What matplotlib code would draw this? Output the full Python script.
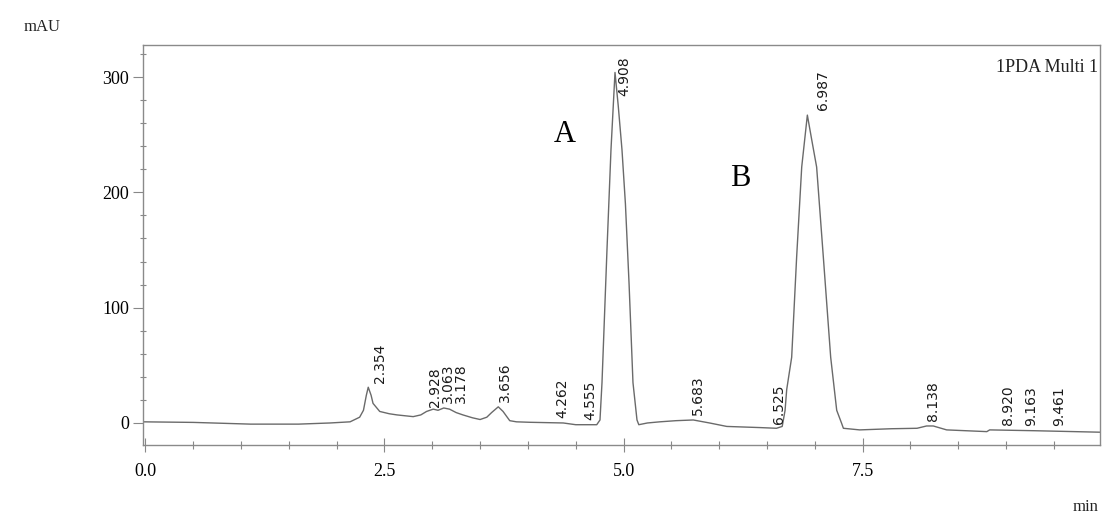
import matplotlib
matplotlib.use("Agg")
import matplotlib.pyplot as plt
from matplotlib.ticker import MultipleLocator
import numpy as np

# chromatogram trace (min, mAU)
time = [-0.03, 0.5, 1.1, 1.6, 1.93, 2.14, 2.24, 2.28, 2.31, 2.33, 2.36, 2.38,
        2.45, 2.55, 2.63, 2.80, 2.88, 2.94, 3.01, 3.06, 3.12, 3.18, 3.25, 3.32,
        3.42, 3.50, 3.57, 3.62, 3.69, 3.74, 3.81, 3.88, 4.02, 4.37, 4.50, 4.72,
        4.754, 4.775, 4.827, 4.869, 4.911, 4.945, 4.984, 5.02, 5.058, 5.099,
        5.141, 5.16, 5.25, 5.38, 5.55, 5.73, 5.90, 6.08, 6.43, 6.60, 6.66, 6.69,
        6.707, 6.759, 6.811, 6.864, 6.923, 6.97, 7.02, 7.09, 7.167, 7.23, 7.28,
        7.30, 7.47, 7.8, 8.07, 8.17, 8.24, 8.38, 8.80, 8.83, 9.29, 9.984]
signal = [1, 0.5, -1, -1, 0, 1, 5, 11, 24, 31, 24, 17,
          10, 8, 7, 5.5, 7, 10, 12, 11, 13, 12, 9, 7,
          4.5, 3, 5, 9, 14, 10, 2, 1, 0.6, 0, -1.5, -1.5,
          2.6, 35, 150, 237, 304, 275, 237, 190, 121, 35,
          2.6, -1.5, 0, 1, 2, 2.6, 0, -3, -4, -4.6, -3, 11,
          29, 57, 144, 222, 267, 245, 222, 144, 57, 11, 0,
          -4.6, -6, -5, -4.6, -2.6, -2.6, -6, -7.5, -6, -6.7, -8]

# retention times printed above the peaks
peak_rt = [2.354, 2.928, 3.063, 3.178, 3.656, 4.262, 4.555, 4.908, 5.683,
           6.525, 6.987, 8.138, 8.920, 9.163, 9.461]

# compound letters
compounds = ["A", "B"]
compound_t = [4.39, 6.22]
compound_y = [250, 212]

serif = "Liberation Serif"
line_col = "#6a6a6a"

fig = plt.figure(figsize=(11.09, 5.15), dpi=100)
ax = fig.add_axes([143 / 1109, 1 - 445 / 515, 957 / 1109, 400 / 515])

ax.plot(time, signal, color=line_col, lw=1.0)

ax.set_xlim(-0.026, 9.984)
ax.set_ylim(-19.1, 327.8)

ax.xaxis.set_major_locator(MultipleLocator(2.5))
ax.xaxis.set_minor_locator(MultipleLocator(0.5))
ax.yaxis.set_major_locator(MultipleLocator(100))
ax.yaxis.set_minor_locator(MultipleLocator(20))
ax.xaxis.set_major_formatter(matplotlib.ticker.FormatStrFormatter("%.1f"))

ax.tick_params(axis="x", which="major", direction="inout", length=10, width=0.8,
               color="#888888", pad=8, labelsize=13)
ax.tick_params(axis="x", which="minor", direction="inout", length=6, width=0.8,
               color="#888888")
ax.tick_params(axis="y", which="major", direction="out", length=7, width=0.8,
               color="#888888", pad=3, labelsize=13)
ax.tick_params(axis="y", which="minor", direction="inout", length=5, width=0.8,
               color="#888888")
for lab in ax.get_xticklabels() + ax.get_yticklabels():
    lab.set_fontfamily(serif)

for s in ax.spines.values():
    s.set_color("#8a8a8a")
    s.set_linewidth(1.0)

# peak retention time labels, pushed apart where they crowd
t_arr = np.array(time)
s_arr = np.array(signal)
last_x = -1.0
for rt in peak_rt:
    near = (t_arr > rt - 0.08) & (t_arr < rt + 0.08)
    top = s_arr[near].max() if near.any() else np.interp(rt, t_arr, s_arr)
    y = min(top + 4, 284)
    lx = max(rt + 0.1, last_x + 0.135)
    last_x = lx
    ax.text(lx, y, f"{rt:.3f}", rotation=90, ha="center", va="bottom",
            fontsize=10, family="DejaVu Sans", color="#1a1a1a")

for name, cx, cy in zip(compounds, compound_t, compound_y):
    ax.text(cx, cy, name, ha="center", va="center", fontsize=22, family=serif,
            color="black")

ax.text(0.998, 0.945, "1PDA Multi 1", transform=ax.transAxes, ha="right",
        va="center", fontsize=13, family=serif, color="#222222")

fig.text(42 / 1109, 1 - 27 / 515, "mAU", ha="center", va="center",
         fontsize=12, family=serif, color="#222222")
fig.text(1098 / 1109, 1 - 507 / 515, "min", ha="right", va="center",
         fontsize=12, family=serif, color="#222222")

fig.savefig("out.png", dpi=100)
